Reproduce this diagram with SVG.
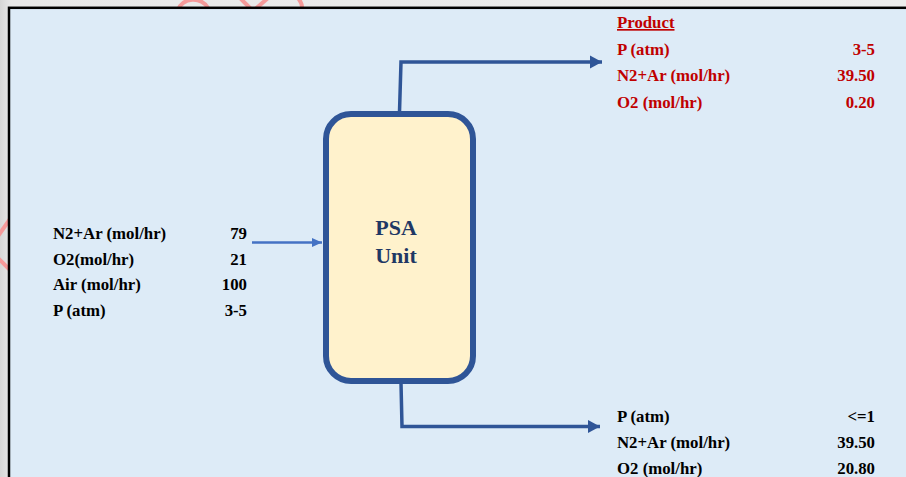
<svg xmlns="http://www.w3.org/2000/svg" width="906" height="477" viewBox="0 0 906 477">
  <defs>
    <linearGradient id="bg" x1="0" y1="0" x2="1" y2="0">
      <stop offset="0" stop-color="#d6d6d6"/>
      <stop offset="0.012" stop-color="#e8e8e8"/>
      <stop offset="1" stop-color="#ededed"/>
    </linearGradient>
    <marker id="arrBig" markerUnits="userSpaceOnUse" markerWidth="14" markerHeight="14" refX="12" refY="7" orient="auto">
      <path d="M0,0.5 L12,7 L0,13.5 Z" fill="#2f5597"/>
    </marker>
    <marker id="arrIn" markerUnits="userSpaceOnUse" markerWidth="12" markerHeight="12" refX="10" refY="6" orient="auto">
      <path d="M0,1.5 L10,6 L0,10.5 Z" fill="#4472c4"/>
    </marker>
    <style>
      .t { font-family: "Liberation Serif", "Times New Roman", serif; font-weight: bold; font-size: 16.8px; }
      .k { fill: #000000; }
      .r { fill: #c00000; }
      .num { text-anchor: end; }
      .conn { fill: none; stroke: #2f5597; stroke-width: 3.5; }
    </style>
  </defs>

  <rect x="0" y="0" width="906" height="477" fill="url(#bg)"/>

  <!-- watermark fragments outside the panel -->
  <g fill="none" stroke="#f59a9a" stroke-width="4">
    <path d="M178,10 A16,14 0 0 1 208,8"/>
    <path d="M240,-2 L252,10"/>
    <path d="M268,-2 L252,12"/>
    <path d="M298,-2 Q303,4 302,10"/>
    <path d="M10,219 L-2,236"/>
    <path d="M-2,258 L10,270"/>
  </g>

  <rect x="9" y="7.8" width="920" height="480" fill="#ddebf7" stroke="#000000" stroke-width="2.5"/>

  <g id="connectors">
    <path class="conn" d="M399.5,112 L401,62 L602,62" marker-end="url(#arrBig)"/>
    <path class="conn" d="M401,383 L402,426.5 L600,426.5" marker-end="url(#arrBig)"/>
    <path d="M252,242.5 L322,242.5" fill="none" stroke="#4472c4" stroke-width="2.5" marker-end="url(#arrIn)"/>
  </g>

  <g id="psa-unit">
    <rect x="326" y="114" width="147" height="267" rx="25" ry="25" fill="#fff2cc" stroke="#2f5597" stroke-width="6"/>
    <text x="396" y="235" text-anchor="middle" font-family="Liberation Serif, serif" font-weight="bold" font-size="22" fill="#1f3864">PSA</text>
    <text x="396" y="263" text-anchor="middle" font-family="Liberation Serif, serif" font-weight="bold" font-size="22" fill="#1f3864">Unit</text>
  </g>

  <g id="feed-table" class="t k">
    <text x="53" y="239">N2+Ar (mol/hr)</text>
    <text x="247" y="239" class="num">79</text>
    <text x="53" y="264.5">O2(mol/hr)</text>
    <text x="247" y="264.5" class="num">21</text>
    <text x="53" y="290">Air (mol/hr)</text>
    <text x="247" y="290" class="num">100</text>
    <text x="53" y="315.5">P (atm)</text>
    <text x="247" y="315.5" class="num">3-5</text>
  </g>

  <g id="product-table" class="t r">
    <text x="617" y="28" text-decoration="underline">Product</text>
    <text x="617" y="54.5">P (atm)</text>
    <text x="875" y="54.5" class="num">3-5</text>
    <text x="617" y="81">N2+Ar (mol/hr)</text>
    <text x="875" y="81" class="num">39.50</text>
    <text x="617" y="107.5">O2 (mol/hr)</text>
    <text x="875" y="107.5" class="num">0.20</text>
  </g>

  <g id="waste-table" class="t k">
    <text x="617" y="422">P (atm)</text>
    <text x="875" y="422" class="num">&lt;=1</text>
    <text x="617" y="448">N2+Ar (mol/hr)</text>
    <text x="875" y="448" class="num">39.50</text>
    <text x="617" y="473.5">O2 (mol/hr)</text>
    <text x="875" y="473.5" class="num">20.80</text>
  </g>
</svg>
